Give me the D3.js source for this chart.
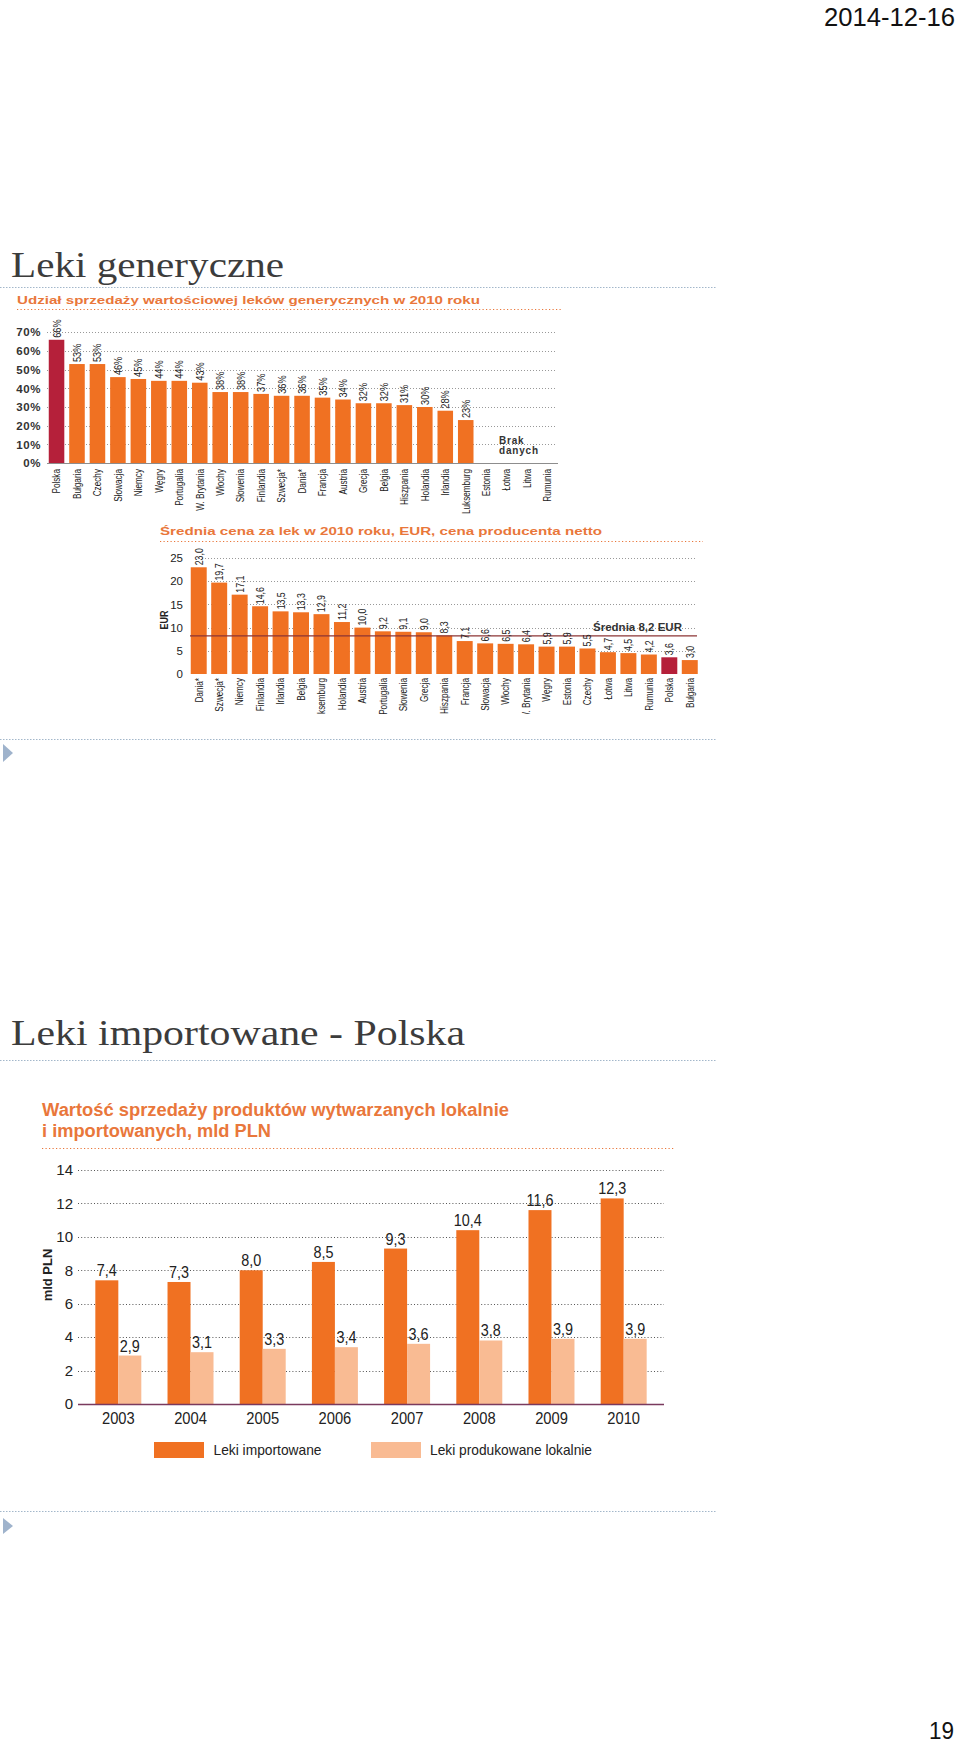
<!DOCTYPE html>
<html><head><meta charset="utf-8">
<script src="https://cdn.jsdelivr.net/npm/d3@7"></script>
<style>body{margin:0;background:#fff}svg{display:block}</style>
</head><body>
<svg id="page" width="960" height="1746" font-family="Liberation Sans, Arial, sans-serif"></svg>
<script>
// ---------- DATA ----------
const cats1 = ["Polska","Bułgaria","Czechy","Słowacja","Niemcy","Węgry","Portugalia","W. Brytania","Włochy","Słowenia","Finlandia","Szwecja*","Dania*","Francja","Austria","Grecja","Belgia","Hiszpania","Holandia","Irlandia","Luksemburg","Estonia","Łotwa","Litwa","Rumunia"];
const share1 = [66,53,53,46,45,44,44,43,38,38,37,36,36,35,34,32,32,31,30,28,23,null,null,null,null];
const ticks1 = [0,10,20,30,40,50,60,70];

const cats2 = ["Dania*","Szwecja*","Niemcy","Finlandia","Irlandia","Belgia","Luksemburg","Holandia","Austria","Portugalia","Słowenia","Grecja","Hiszpania","Francja","Słowacja","Włochy","W. Brytania","Węgry","Estonia","Czechy","Łotwa","Litwa","Rumunia","Polska","Bułgaria"];
const price2 = [23.0,19.7,17.1,14.6,13.5,13.3,12.9,11.2,10.0,9.2,9.1,9.0,8.3,7.1,6.6,6.5,6.4,5.9,5.9,5.5,4.7,4.5,4.2,3.6,3.0];
const ticks2 = [0,5,10,15,20,25];
const avg2 = 8.2;

const years3 = ["2003","2004","2005","2006","2007","2008","2009","2010"];
const imported3 = [7.4,7.3,8.0,8.5,9.3,10.4,11.6,12.3];
const local3 = [2.9,3.1,3.3,3.4,3.6,3.8,3.9,3.9];
const ticks3 = [0,2,4,6,8,10,12,14];
const series3 = ["Leki importowane","Leki produkowane lokalnie"];

// ---------- STYLE ----------
const ORANGE = "#f07122", CRIMSON = "#b5203a", PEACH = "#f9bb93", TITLE = "#e9773b";
const BLUE_DOT = "#a3b7ca", GRAY = "#3c3c3c";
const SERIF = "Liberation Serif, 'DejaVu Serif', serif";
const comma = v => d3.format(".1f")(v).replace(".", ",");

const svg = d3.select("#page");

// ---------- PAGE FRAME ----------
svg.append("text").attr("x",955).attr("y",26).attr("text-anchor","end").attr("font-size",26).attr("fill","#111")
  .attr("textLength",131).attr("lengthAdjust","spacingAndGlyphs").text("2014-12-16");
svg.append("text").attr("x",11).attr("y",277).style("font-family",SERIF)
  .attr("font-size",36).attr("fill",GRAY).attr("textLength",273).attr("lengthAdjust","spacingAndGlyphs").text("Leki generyczne");
svg.append("text").attr("x",11).attr("y",1045).style("font-family",SERIF)
  .attr("font-size",36).attr("fill",GRAY).attr("textLength",454).attr("lengthAdjust","spacingAndGlyphs").text("Leki importowane - Polska");
[287,739,1060,1511].forEach(y => svg.append("line").attr("x1",0).attr("x2",716).attr("y1",y+0.5).attr("y2",y+0.5)
  .attr("stroke",BLUE_DOT).attr("stroke-width",1).attr("stroke-dasharray","1.5,1.5"));
[[744,753,762],[1518,1526,1534]].forEach(a => svg.append("path")
  .attr("d",`M3,${a[0]}L13,${a[1]}L3,${a[2]}Z`).attr("fill","#9fb3cc"));
svg.append("text").attr("x",954).attr("y",1739).attr("text-anchor","end").attr("font-size",24).attr("fill","#111")
  .attr("textLength",25).attr("lengthAdjust","spacingAndGlyphs").text("19");

// helpers
function vtext(g, x, y, txt, opts){
  return g.append("text").attr("transform",`translate(${x},${y}) rotate(-90) scale(${opts.sx||0.78},1)`)
    .attr("text-anchor",opts.anchor||"start").attr("font-size",opts.size||10.5).attr("fill",opts.fill||"#222")
    .attr("font-weight",opts.weight||"normal").text(txt);
}

// ---------- CHART 1 ----------
{
  const g = svg.append("g");
  g.append("text").attr("x",17).attr("y",304).attr("font-size",11.5).attr("font-weight","bold").attr("fill",TITLE)
    .attr("textLength",463).attr("lengthAdjust","spacingAndGlyphs").text("Udział sprzedaży wartościowej leków generycznych w 2010 roku");
  g.append("line").attr("x1",17).attr("x2",563).attr("y1",309.5).attr("y2",309.5).attr("stroke",TITLE)
    .attr("stroke-width",1.2).attr("stroke-dasharray","1.2,2.3");
  const x = d3.scaleBand().domain(cats1).range([46.3,557.8]).paddingInner(0.24).paddingOuter(0.12);
  const y = d3.scaleLinear().domain([0,70]).range([463,332.3]);
  g.selectAll(".gl").data(ticks1.filter(t=>t>0)).join("line")
    .attr("x1",47).attr("x2",557).attr("y1",d=>Math.round(y(d))+0.5).attr("y2",d=>Math.round(y(d))+0.5)
    .attr("stroke","#999").attr("stroke-dasharray","1,2");
  const ax = g.append("g").attr("transform","translate(44,0)").call(d3.axisLeft(y).tickValues(ticks1).tickSize(0).tickFormat(d=>d+"%"));
  ax.select(".domain").remove();
  ax.selectAll("text").attr("font-size",11.5).attr("font-weight","bold").attr("fill","#333")
    .attr("font-family","Liberation Sans, Arial").attr("letter-spacing",0.6).attr("dx",0);
  const data = cats1.map((c,i)=>({c,v:share1[i]})).filter(d=>d.v!=null);
  g.selectAll(".bar").data(data).join("rect")
    .attr("x",d=>x(d.c)).attr("width",x.bandwidth()).attr("y",d=>y(d.v)).attr("height",d=>y(0)-y(d.v))
    .attr("fill",d=>d.c==="Polska"?CRIMSON:ORANGE);
  g.append("line").attr("x1",47).attr("x2",558).attr("y1",463.5).attr("y2",463.5).attr("stroke","#8d8d8d").attr("stroke-width",1.2);
  data.forEach(d=>vtext(g, x(d.c)+x.bandwidth()/2+4, y(d.v)-2, d.v+"%", {size:11.5,sx:0.8}));
  cats1.forEach(c=>vtext(g, x(c)+x.bandwidth()/2+3.8, 469, c, {anchor:"end",size:10.5}));
  g.append("text").attr("x",499).attr("y",444).attr("font-size",10).attr("font-weight","bold").attr("fill","#333").attr("letter-spacing",0.8).text("Brak");
  g.append("text").attr("x",499).attr("y",454).attr("font-size",10).attr("font-weight","bold").attr("fill","#333").attr("letter-spacing",0.8).text("danych");
}

// ---------- CHART 2 ----------
{
  const g = svg.append("g");
  g.append("text").attr("x",160).attr("y",535).attr("font-size",11.5).attr("font-weight","bold").attr("fill",TITLE)
    .attr("textLength",442).attr("lengthAdjust","spacingAndGlyphs").text("Średnia cena za lek w 2010 roku, EUR, cena producenta netto");
  g.append("line").attr("x1",160).attr("x2",703).attr("y1",541.5).attr("y2",541.5).attr("stroke",TITLE)
    .attr("stroke-width",1.2).attr("stroke-dasharray","1.2,2.3");
  const x = d3.scaleBand().domain(cats2).range([188.5,188.5+25*20.46]).paddingInner(0.22).paddingOuter(0.11);
  const y = d3.scaleLinear().domain([0,25]).range([674,558]);
  g.selectAll(".gl").data(ticks2.filter(t=>t>0)).join("line")
    .attr("x1",199).attr("x2",697).attr("y1",d=>Math.round(y(d))+0.5).attr("y2",d=>Math.round(y(d))+0.5)
    .attr("stroke","#999").attr("stroke-dasharray","1,2");
  const ax = g.append("g").attr("transform","translate(186,0)").call(d3.axisLeft(y).tickValues(ticks2).tickSize(0));
  ax.select(".domain").remove();
  ax.selectAll("text").attr("font-size",11.5).attr("fill","#222").attr("font-family","Liberation Sans, Arial").attr("dx",0);
  vtext(g, 168, 620, "EUR", {anchor:"middle",size:10.5,weight:"bold",sx:0.85});
  g.selectAll(".bar").data(cats2).join("rect")
    .attr("x",d=>x(d)).attr("width",x.bandwidth()).attr("y",(d,i)=>y(price2[i])).attr("height",(d,i)=>y(0)-y(price2[i]))
    .attr("fill",d=>d==="Polska"?CRIMSON:ORANGE);
  g.append("line").attr("x1",190).attr("x2",697).attr("y1",y(avg2)).attr("y2",y(avg2)).attr("stroke","#8c3434").attr("stroke-width",1.3);
  g.append("text").attr("x",593).attr("y",631).attr("font-size",11).attr("font-weight","bold").attr("fill","#333")
    .attr("textLength",89).attr("lengthAdjust","spacingAndGlyphs").text("Średnia "+comma(avg2)+" EUR");
  cats2.forEach((c,i)=>vtext(g, x(c)+x.bandwidth()/2+4, y(price2[i])-2, comma(price2[i]), {size:11,sx:0.8}));
  const clip = svg.append("defs").append("clipPath").attr("id","clip2");
  clip.append("rect").attr("x",150).attr("y",674).attr("width",570).attr("height",40);
  const lg = g.append("g").attr("clip-path","url(#clip2)");
  cats2.forEach(c=>vtext(lg, x(c)+x.bandwidth()/2+3.8, 678, c, {anchor:"end",size:10.5}));
}

// ---------- CHART 3 ----------
{
  const g = svg.append("g");
  g.append("text").attr("x",42).attr("y",1116).attr("font-size",18).attr("font-weight","bold").attr("fill",TITLE)
    .attr("textLength",467).attr("lengthAdjust","spacingAndGlyphs").text("Wartość sprzedaży produktów wytwarzanych lokalnie");
  g.append("text").attr("x",42).attr("y",1137).attr("font-size",18).attr("font-weight","bold").attr("fill",TITLE)
    .attr("textLength",229).attr("lengthAdjust","spacingAndGlyphs").text("i importowanych, mld PLN");
  g.append("line").attr("x1",42).attr("x2",675).attr("y1",1148.5).attr("y2",1148.5).attr("stroke",TITLE)
    .attr("stroke-width",1.2).attr("stroke-dasharray","1.2,2.3");
  const x0 = d3.scaleBand().domain(years3).range([78,664]).paddingInner(0.363).paddingOuter(0.24);
  const x1 = d3.scaleBand().domain(series3).range([0,x0.bandwidth()]);
  const y = d3.scaleLinear().domain([0,14]).range([1404,1170]);
  g.selectAll(".gl").data(ticks3.filter(t=>t>0)).join("line")
    .attr("x1",78).attr("x2",664).attr("y1",d=>Math.round(y(d))+0.5).attr("y2",d=>Math.round(y(d))+0.5)
    .attr("stroke","#555").attr("stroke-dasharray","1,2.2");
  const ax = g.append("g").attr("transform","translate(76,0)").call(d3.axisLeft(y).tickValues(ticks3).tickSize(0));
  ax.select(".domain").remove();
  ax.selectAll("text").attr("font-size",15).attr("fill","#222").attr("font-family","Liberation Sans, Arial").attr("dx",0);
  g.append("text").attr("transform","translate(52,1275) rotate(-90)").attr("text-anchor","middle")
    .attr("font-size",13).attr("font-weight","bold").attr("fill","#222").text("mld PLN");
  const rows = years3.map((yr,i)=>({yr, vals:[imported3[i], local3[i]]}));
  const grp = g.selectAll(".grp").data(rows).join("g").attr("transform",d=>`translate(${x0(d.yr)},0)`);
  grp.selectAll("rect").data(d=>d.vals.map((v,j)=>({s:series3[j],v}))).join("rect")
    .attr("x",d=>x1(d.s)).attr("width",x1.bandwidth()).attr("y",d=>y(d.v)).attr("height",d=>y(0)-y(d.v))
    .attr("fill",d=>d.s===series3[0]?ORANGE:PEACH);
  grp.selectAll("text.v").data(d=>d.vals.map((v,j)=>({s:series3[j],v}))).join("text").attr("class","v")
    .attr("transform",d=>`translate(${x1(d.s)+x1.bandwidth()/2},${y(d.v)-4}) scale(0.9,1)`)
    .attr("text-anchor","middle").attr("font-size",16).attr("fill","#222").text(d=>comma(d.v));
  g.append("line").attr("x1",78).attr("x2",664).attr("y1",1404.5).attr("y2",1404.5).attr("stroke","#7a3a5e").attr("stroke-width",1.3);
  const xa = g.append("g").attr("transform","translate(0,1405)").call(d3.axisBottom(x0).tickSize(0));
  xa.select(".domain").remove();
  xa.selectAll("text").attr("font-size",16).attr("fill","#222").attr("font-family","Liberation Sans, Arial")
    .attr("dy",0).attr("y",19).attr("transform","scale(0.92,1)");
  // legend
  const leg = [{x:154,tx:213.5,w:108},{x:371,tx:430,w:162}];
  series3.forEach((s,i)=>{
    g.append("rect").attr("x",leg[i].x).attr("y",1442).attr("width",50).attr("height",16).attr("fill",i?PEACH:ORANGE);
    g.append("text").attr("x",leg[i].tx).attr("y",1455).attr("font-size",15).attr("fill","#222")
      .attr("textLength",leg[i].w).attr("lengthAdjust","spacingAndGlyphs").text(s);
  });
}
</script>
</body></html>
